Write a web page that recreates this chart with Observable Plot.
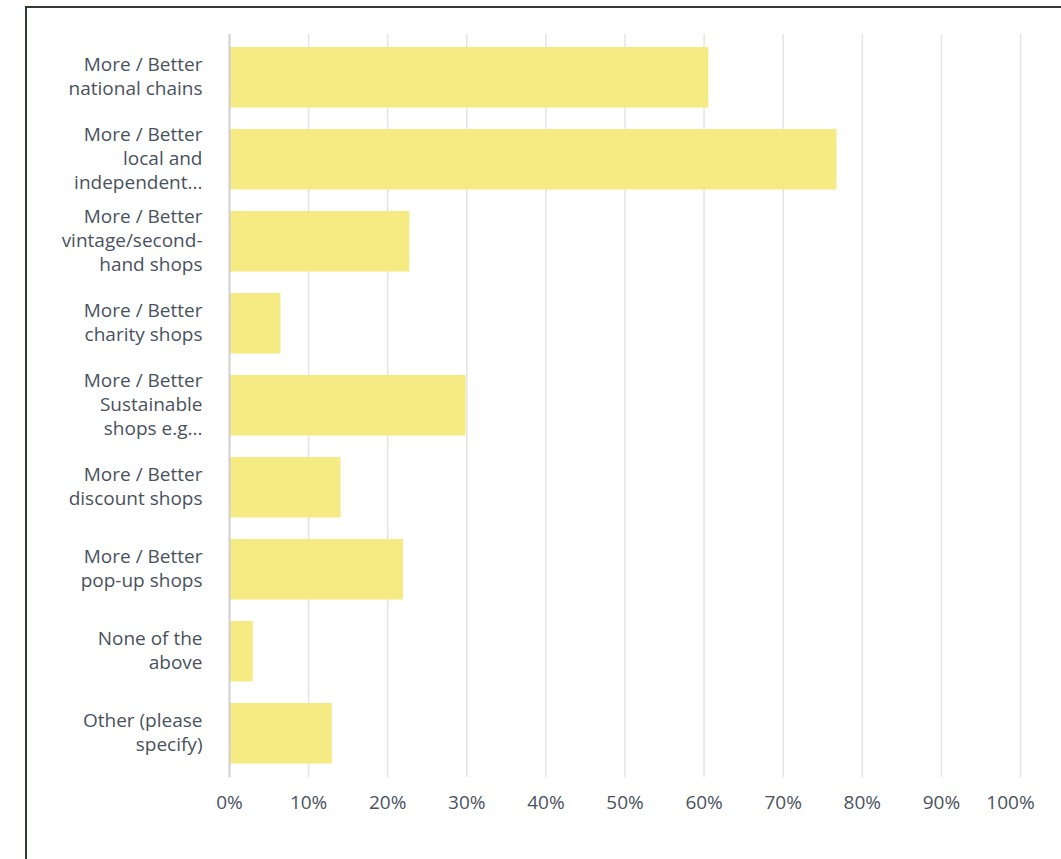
<!DOCTYPE html>
<html><head><meta charset="utf-8">
<script src="https://cdn.jsdelivr.net/npm/d3@7"></script>
<script src="https://cdn.jsdelivr.net/npm/@observablehq/plot@0.6"></script>
<style>
html,body{margin:0;padding:0;background:#fff;overflow:hidden;}
#wrap{position:relative;width:1061px;height:859px;}
#box{position:absolute;left:25px;top:6px;width:1100px;height:900px;border:2px solid #2f3a30;box-sizing:border-box;pointer-events:none;}
#chart{position:absolute;left:0;top:0;}
</style></head>
<body><div id="wrap"><div id="chart"></div><div id="box"></div></div>
<script>
const categories = [
  "More / Better\nnational chains",
  "More / Better\nlocal and\nindependent...",
  "More / Better\nvintage/second-\nhand shops",
  "More / Better\ncharity shops",
  "More / Better\nSustainable\nshops e.g...",
  "More / Better\ndiscount shops",
  "More / Better\npop-up shops",
  "None of the\nabove",
  "Other (please\nspecify)"
];
const values = [60.6, 76.8, 22.8, 6.5, 29.9, 14.1, 22.0, 3.0, 13.0];
const xTicks = [0, 10, 20, 30, 40, 50, 60, 70, 80, 90, 100];

const data = categories.map((c, i) => ({category: c, value: values[i]}));
const font = "'Open Sans', sans-serif";
const textColor = "#4a525d";

const chart = Plot.plot({
  width: 1061,
  height: 859,
  marginLeft: 229,
  marginRight: 41,
  marginTop: 34,
  marginBottom: 82,
  style: {fontFamily: font, fontSize: "19px", color: textColor, background: "transparent"},
  x: {domain: [0, 100]},
  y: {domain: categories, padding: 0},
  marks: [
    Plot.ruleX(xTicks.filter(d => d > 0), {stroke: "#e4e4e4", strokeWidth: 1.5, strokeOpacity: 1}),
    Plot.barX(data, {y: "category", x: "value", fill: "#f5eb82", insetTop: 10, insetBottom: 11.5}),
    Plot.ruleX([0], {stroke: "#cfcfcf", strokeWidth: 2}),
    Plot.ruleY([0], {frameAnchor: "bottom", stroke: "#cfcfcf", strokeWidth: 2}),
    Plot.axisY({tickSize: 0, tickPadding: 27, dy: -3, lineHeight: 1.26, fontSize: 19, fill: textColor, label: null}),
    Plot.axisX({ticks: xTicks.filter(d => d < 100), tickSize: 0, tickPadding: 18, tickFormat: d => d + "%", fontSize: 19, fill: textColor, label: null}),
    Plot.axisX({ticks: [100], tickSize: 0, tickPadding: 18, dx: -10, tickFormat: d => d + "%", fontSize: 19, fill: textColor, label: null})
  ]
});
document.getElementById("chart").appendChild(chart);
</script>
</body></html>
